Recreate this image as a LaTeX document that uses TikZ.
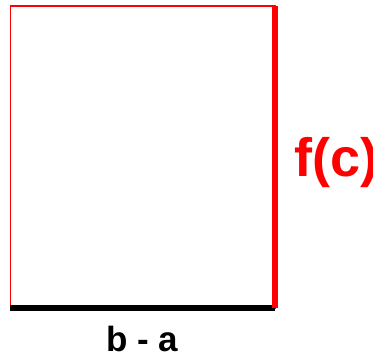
\documentclass[tikz,border=0pt]{standalone}
\usepackage{fontspec}
\setmainfont{Liberation Sans}
\usepackage{xcolor}
\usepackage{tikz}
\usetikzlibrary{positioning,calc}

\begin{document}
\begin{tikzpicture}[
  x=1pt, y=1pt,
  thinedge/.style={draw=red, line width=1.5pt},   % outline of the box
  thickedge/.style={line width=6.5pt},             % the two marked sides
  lbl/.style={inner sep=0pt, font=\bfseries}
]
\useasboundingbox (0,0) rectangle (373,356);
\coordinate (sw) at (10.5,48);
\coordinate (ne) at (275,350);
\coordinate (se) at (ne |- sw);
\coordinate (nw) at (sw |- ne);

\draw[thinedge] (sw) rectangle (ne);
\draw[thickedge, black] ($(sw)+(-0.5,0)$) -- (se);
\draw[thickedge, red] (ne) -- (se);

\node[lbl, text=red, anchor=base west, font=\bfseries\fontsize{54}{60}\selectfont] (fc) at (294,179) {f(c)};
\node[lbl, anchor=base, font=\bfseries\fontsize{35}{40}\selectfont] (ba) at (142.5,4) {b - a};
\end{tikzpicture}
\end{document}
